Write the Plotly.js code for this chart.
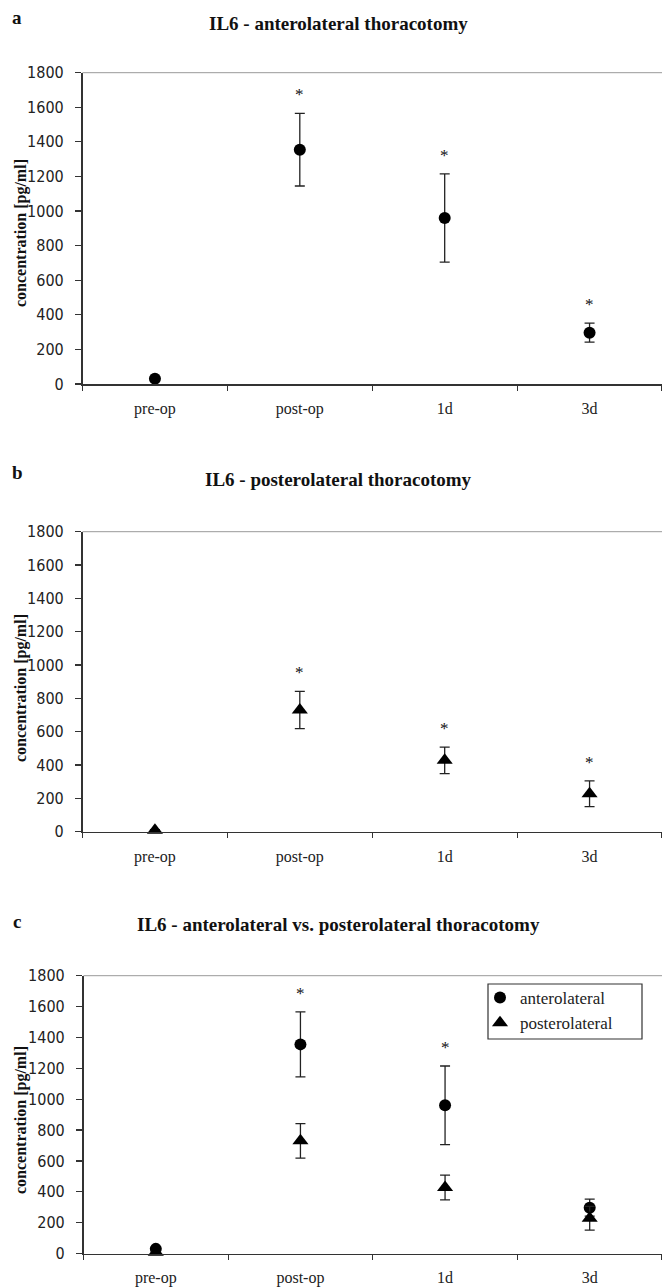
<!DOCTYPE html>
<html><head><meta charset="utf-8">
<script src="https://cdn.plot.ly/plotly-3.0.1.min.js"></script>
<style>html,body{margin:0;padding:0;background:#fff;} #chart{width:662px;height:1288px;}</style>
</head><body><div id="chart"></div>
<script>
const categories = ['pre-op', 'post-op', '1d', '3d'];
const anteroMean = [30, 1355, 960, 297];
const anteroErr = [10, 210, 255, 55];
const posteroMean = [8, 730, 428, 228];
const posteroErr = [5, 112, 80, 77];
const anteroSig = [false, true, true, true];
const posteroSig = [false, true, true, true];
const compareSig = [false, true, true, false];
const yTicks = [0, 200, 400, 600, 800, 1000, 1200, 1400, 1600, 1800];
const seriesNames = ['anterolateral', 'posterolateral'];
const panelTitles = ['IL6 - anterolateral thoracotomy', 'IL6 - posterolateral thoracotomy', 'IL6 - anterolateral vs. posterolateral thoracotomy'];
const panelLetters = ['a', 'b', 'c'];
const yTitle = 'concentration [pg/ml]';

const W = 662, H = 1288;
const SERIF = 'Liberation Serif, Times New Roman, serif';
const NARROW = 'Liberation Sans Narrow, Arial Narrow, DejaVu Sans Condensed, sans-serif';
// panel geometry in pixels
const panels = [
  {left: 82.5, top: 72.7, bottom: 384, titleY: 23, letterY: 17, ytitleY: 233},
  {left: 82.5, top: 531.7, bottom: 831.7, titleY: 479, letterY: 472, ytitleY: 688},
  {left: 83.5, top: 975.7, bottom: 1253.5, titleY: 925, letterY: 921, ytitleY: 1120}
];

function errBar(arr) {
  return {type: 'data', array: arr, visible: true, color: '#222', thickness: 1.3, width: 5};
}
const circle = {symbol: 'circle', size: 12, color: '#000'};
const tri = {symbol: 'triangle-up', size: 14, color: '#000'};

const traces = [
  {x: categories, y: anteroMean, error_y: errBar(anteroErr), mode: 'markers', marker: circle,
   xaxis: 'x', yaxis: 'y', showlegend: false, cliponaxis: false, name: seriesNames[0]},
  {x: categories, y: posteroMean, error_y: errBar(posteroErr), mode: 'markers', marker: tri,
   xaxis: 'x2', yaxis: 'y2', showlegend: false, cliponaxis: false, name: seriesNames[1]},
  {x: categories, y: anteroMean, error_y: errBar(anteroErr), mode: 'markers', marker: circle,
   xaxis: 'x3', yaxis: 'y3', showlegend: true, cliponaxis: false, name: seriesNames[0]},
  {x: categories, y: posteroMean, error_y: errBar(posteroErr), mode: 'markers', marker: tri,
   xaxis: 'x3', yaxis: 'y3', showlegend: true, cliponaxis: false, name: seriesNames[1]}
];

const layout = {
  width: W, height: H,
  margin: {l: 0, r: 0, t: 0, b: 0},
  paper_bgcolor: '#fff', plot_bgcolor: '#fff',
  font: {family: SERIF, color: '#222', size: 14},
  showlegend: true,
  legend: {x: 480 / W, y: 1 - 980 / H, xanchor: 'left', yanchor: 'top',
           borderwidth: 0, bgcolor: 'rgba(0,0,0,0)',
           font: {family: SERIF, size: 17, color: '#222'}, tracegroupgap: 0},
  annotations: [],
  shapes: [{type: 'rect', xref: 'paper', yref: 'paper', x0: 488 / W, x1: 642 / W,
            y0: 1 - 1039 / H, y1: 1 - 984 / H, line: {color: '#333', width: 1.2}}]
};

const sigSets = [anteroSig, posteroSig, compareSig];
const sigMean = [anteroMean, posteroMean, anteroMean];
const sigErr = [anteroErr, posteroErr, anteroErr];

panels.forEach((p, i) => {
  const sx = i === 0 ? '' : String(i + 1);
  layout['xaxis' + sx] = {
    domain: [p.left / W, 1], anchor: 'y' + sx, type: 'category', range: [-0.5, 3.5],
    showline: true, linecolor: '#333', linewidth: 1.6, ticks: 'outside', tickson: 'boundaries',
    ticklen: 5, tickcolor: '#333', tickwidth: 1.2, showgrid: false, zeroline: false,
    tickfont: {family: SERIF, size: 16, color: '#222'}, ticklabelstandoff: 9
  };
  layout['yaxis' + sx] = {
    domain: [1 - p.bottom / H, 1 - p.top / H], anchor: 'x' + sx, range: [0, 1800],
    tickvals: yTicks, showline: true, linecolor: '#333', linewidth: 1.6, ticks: 'outside',
    ticklen: 6, tickcolor: '#333', tickwidth: 1.2, showgrid: false, zeroline: false,
    tickfont: {family: NARROW, size: 16, color: '#222'}, ticklabelstandoff: 8
  };
  layout.shapes.push({type: 'line', xref: 'x' + sx + ' domain', yref: 'y' + sx + ' domain',
    x0: 0, x1: 1, y0: 1, y1: 1, line: {color: '#999', width: 1}});
  layout.annotations.push({text: '<b>' + panelTitles[i] + '</b>', xref: 'paper', yref: 'paper',
    x: 338 / W, y: 1 - p.titleY / H, xanchor: 'center', yanchor: 'middle', showarrow: false,
    font: {family: SERIF, size: 19, color: '#111'}});
  layout.annotations.push({text: '<b>' + panelLetters[i] + '</b>', xref: 'paper', yref: 'paper',
    x: 17 / W, y: 1 - p.letterY / H, xanchor: 'center', yanchor: 'middle', showarrow: false,
    font: {family: SERIF, size: 19, color: '#111'}});
  layout.annotations.push({text: '<b>' + yTitle + '</b>', xref: 'paper', yref: 'paper',
    x: 21 / W, y: 1 - p.ytitleY / H, xanchor: 'center', yanchor: 'middle', showarrow: false,
    textangle: -90, font: {family: SERIF, size: 16, color: '#111'}});
  sigSets[i].forEach((s, k) => {
    if (!s) return;
    layout.annotations.push({text: '*', xref: 'x' + sx, yref: 'y' + sx,
      x: categories[k], y: sigMean[i][k] + sigErr[i][k], xanchor: 'center', yanchor: 'bottom',
      yshift: 7, showarrow: false, font: {family: SERIF, size: 17, color: '#111'}});
  });
});

Plotly.newPlot('chart', traces, layout, {staticPlot: true, displayModeBar: false});
</script>
</body></html>
